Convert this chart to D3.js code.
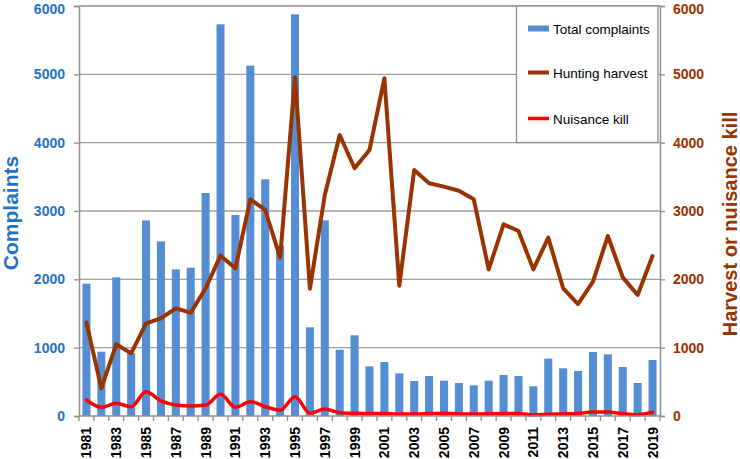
<!DOCTYPE html>
<html><head><meta charset="utf-8">
<script src="https://cdn.jsdelivr.net/npm/d3@7/dist/d3.min.js"></script>
<style>body{margin:0;background:#fff}svg{display:block;font-family:"Liberation Sans",Arial,sans-serif}</style>
</head><body><svg id="c" width="740" height="459"></svg>
<script>
const years = d3.range(1981, 2020).map(String);
const complaints = [1936,941,2029,920,2863,2556,2146,2170,3263,5732,2941,5127,3464,2492,5878,1298,2863,970,1181,727,790,624,512,585,517,483,449,517,600,585,434,839,698,659,937,903,717,483,820];
const harvest = [1366,405,1049,917,1356,1430,1576,1512,1869,2346,2161,3171,3015,2317,4957,1863,3234,4112,3625,3893,4942,1907,3600,3405,3356,3297,3171,2146,2805,2707,2146,2610,1869,1639,1966,2634,2029,1771,2341];
const nuisance = [234,127,185,136,356,220,161,146,161,317,127,210,136,85,283,40,102,48,40,35,35,30,30,35,40,30,30,32,35,35,15,25,30,35,58,58,35,20,54];
const yTicks = [0,1000,2000,3000,4000,5000,6000];
const xLabels = years.filter((d,i)=>i%2===0);
const legendItems = ["Total complaints","Hunting harvest","Nuisance kill"];

const svg = d3.select("#c");
const L=79, R=660, T=6, B=416;
const x = d3.scaleBand().domain(years).range([L,R]).paddingInner(0.46).paddingOuter(0.23);
const yL = d3.scaleLinear().domain([0,6000]).range([B,T]);
const yR = d3.scaleLinear().domain([0,6000]).range([B,T]);
const blue="#558ed5", brown="#993300", red="#ff0000", grid="#a0a0a0";

svg.append("g").selectAll("line").data(yTicks.filter(d=>d>0)).join("line")
  .attr("x1",L).attr("x2",R).attr("y1",d=>yL(d)).attr("y2",d=>yL(d))
  .attr("stroke",grid).attr("stroke-width",1.3);

svg.append("g").selectAll("rect").data(complaints).join("rect")
  .attr("x",(d,i)=>x(years[i])).attr("width",x.bandwidth())
  .attr("y",d=>yL(d)).attr("height",d=>yL(0)-yL(d)).attr("fill",blue);

const cx = (d,i)=>x(years[i])+x.bandwidth()/2;
svg.append("path").datum(harvest).attr("fill","none").attr("stroke",brown).attr("stroke-width",4)
  .attr("stroke-linejoin","round").attr("stroke-linecap","round")
  .attr("d",d3.line().x(cx).y(d=>yR(d)));
svg.append("path").datum(nuisance).attr("fill","none").attr("stroke",red).attr("stroke-width",3.5)
  .attr("stroke-linejoin","round").attr("stroke-linecap","round")
  .attr("d",d3.line().x(cx).y(d=>yR(d)).curve(d3.curveMonotoneX));

const axL = svg.append("g").attr("transform",`translate(${L},0)`)
  .call(d3.axisLeft(yL).tickValues(yTicks).tickFormat(d3.format("d")).tickSize(5).tickPadding(9));
axL.select(".domain").attr("stroke","#909090").attr("stroke-width",1.5);
axL.selectAll(".tick line").attr("stroke","#909090").attr("stroke-width",1.3);
axL.selectAll("text").attr("fill","#1f73c4").attr("font-size",14).attr("font-weight","bold").attr("font-family","Liberation Sans, Arial");

const axR = svg.append("g").attr("transform",`translate(${R},0)`)
  .call(d3.axisRight(yR).tickValues(yTicks).tickFormat(d3.format("d")).tickSize(5).tickPadding(8));
axR.select(".domain").attr("stroke","#909090").attr("stroke-width",1.5);
axR.selectAll(".tick line").attr("stroke","#909090").attr("stroke-width",1.3);
axR.selectAll("text").attr("fill",brown).attr("font-size",14).attr("font-weight","bold").attr("font-family","Liberation Sans, Arial");
// keep the top labels inside the picture
axL.selectAll(".tick").filter(d=>d===6000).select("text").attr("dy","0.55em");
axR.selectAll(".tick").filter(d=>d===6000).select("text").attr("dy","0.55em");

svg.append("line").attr("x1",L).attr("x2",R).attr("y1",yL(6000)).attr("y2",yL(6000)).attr("stroke","#a0a0a0").attr("stroke-width",1.5);

const xb = svg.append("g").attr("transform",`translate(0,${B})`);
xb.append("line").attr("x1",L).attr("x2",R).attr("stroke","#909090").attr("stroke-width",1.5);
const step = x.step();
xb.selectAll("line.t").data(years.concat(["end"])).join("line").attr("class","t")
  .attr("x1",(d,i)=>L+i*step).attr("x2",(d,i)=>L+i*step).attr("y1",0).attr("y2",5)
  .attr("stroke","#909090").attr("stroke-width",1.3);
xb.selectAll("text").data(xLabels).join("text")
  .attr("transform",d=>`translate(${x(d)+x.bandwidth()/2+5},11) rotate(-90)`)
  .attr("text-anchor","end").attr("font-size",14).attr("font-weight","bold").attr("fill","#000")
  .text(d=>d);

svg.append("text").attr("transform",`translate(18,213) rotate(-90)`).attr("text-anchor","middle")
  .attr("font-size",21).attr("font-weight","bold").attr("fill","#1f73c4").text("Complaints");
svg.append("text").attr("transform",`translate(737,224) rotate(-90)`).attr("text-anchor","middle")
  .attr("font-size",20).attr("font-weight","bold").attr("fill",brown).text("Harvest or nuisance kill");

const lg = svg.append("g");
lg.append("rect").attr("x",516.5).attr("y",6).attr("width",141.5).attr("height",136.5)
  .attr("fill","#fff").attr("stroke","#909090").attr("stroke-width",1.3);
const ly = [28.5,72.5,118.5];
lg.append("rect").attr("x",528).attr("y",ly[0]-3).attr("width",21).attr("height",6).attr("fill",blue);
lg.append("line").attr("x1",528).attr("x2",549).attr("y1",ly[1]).attr("y2",ly[1]).attr("stroke",brown).attr("stroke-width",4);
lg.append("line").attr("x1",528).attr("x2",549).attr("y1",ly[2]).attr("y2",ly[2]).attr("stroke",red).attr("stroke-width",3.5);
lg.selectAll("text").data(legendItems).join("text")
  .attr("x",553).attr("y",(d,i)=>ly[i]+5).attr("font-size",13.5).attr("fill","#000").text(d=>d);
</script></body></html>
